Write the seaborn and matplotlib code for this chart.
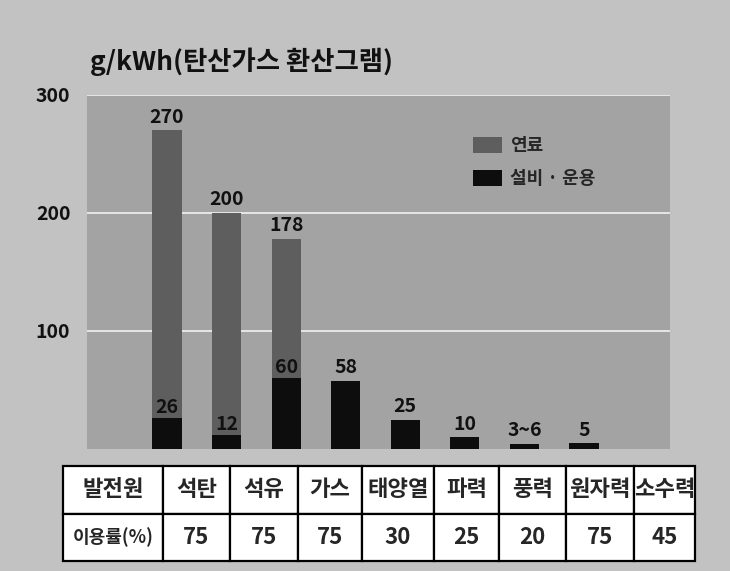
import matplotlib

matplotlib.use("Agg")
import matplotlib.pyplot as plt
import seaborn as sns
import pandas as pd
from matplotlib.patches import Patch

# ===== 데이터 =====
sources = ["석탄", "석유", "가스", "태양열", "파력", "풍력", "원자력", "소수력"]
total = [270, 200, 178, 58, 25, 10, 4.5, 5]          # 연료 + 설비·운용
equipment = [26, 12, 60, 58, 25, 10, 4.5, 5]         # 설비·운용
top_labels = ["270", "200", "178", "58", "25", "10", "3~6", "5"]
inner_labels = ["26", "12", "60", "", "", "", "", ""]
usage = ["75", "75", "75", "30", "25", "20", "75", "45"]
yticks = [100, 200, 300]

sns.set_theme(style="white")
plt.rcParams['font.family'] = ['Noto Sans CJK KR', 'DejaVu Sans']

df = pd.DataFrame({"source": sources, "total": total, "equipment": equipment})

fig = plt.figure(figsize=(7.3, 5.71), dpi=100)
fig.patch.set_facecolor("#c2c2c2")

ax = fig.add_axes([87 / 730, 1 - 449 / 571, 583 / 730, 354 / 571])
ax.set_facecolor("#a3a3a3")

# 연료(전체 높이) 위에 설비·운용을 겹쳐 그림
sns.barplot(data=df, x="source", y="total", color="#5e5e5e", width=0.49,
            saturation=1, linewidth=0, ax=ax)
sns.barplot(data=df, x="source", y="equipment", color="#0d0d0d", width=0.49,
            saturation=1, linewidth=0, ax=ax)

ax.set_xlim(-1.342, 8.443)
ax.set_ylim(0, 300)
ax.set_yticks(yticks)
ax.set_yticklabels([str(t) for t in yticks], fontsize=14, fontweight="bold",
                   color="#111111")
ax.set_xticks([])
ax.set_xlabel("")
ax.set_ylabel("")
ax.tick_params(axis="y", length=0, pad=12)
for s in ax.spines.values():
    s.set_visible(False)
ax.set_axisbelow(True)
ax.yaxis.grid(True, color="#f2f2f2", linewidth=1.2)

# 값 라벨
for i, (t, lab) in enumerate(zip(total, top_labels)):
    ax.text(i, t + 3, lab, ha="center", va="bottom", fontsize=14,
            fontweight="bold", color="#111111")
for i, (e, lab) in enumerate(zip(equipment, inner_labels)):
    if lab:
        ax.text(i, e + 1, lab, ha="center", va="bottom", fontsize=14,
                fontweight="bold", color="#111111")

handles = [Patch(facecolor="#5e5e5e", edgecolor="none", label="연료"),
           Patch(facecolor="#0d0d0d", edgecolor="none", label="설비 · 운용")]
ax.legend(handles=handles, loc="upper left", bbox_to_anchor=(0.635, 0.93),
          frameon=False, handlelength=1.6, handleheight=1.0,
          handletextpad=0.4, labelspacing=0.8,
          prop={"size": 13, "weight": "bold"})

fig.text(90 / 730, 1 - 62 / 571, "g/kWh(탄산가스 환산그램)", fontsize=19,
         fontweight="bold", va="center", ha="left", color="#111111")

# 이용률 표
tab_ax = fig.add_axes([63 / 730, 1 - 561 / 571, 632 / 730, 95 / 571])
tab_ax.axis("off")
cells = [["발전원"] + sources, ["이용률(%)"] + usage]
col_w = [100, 67, 68, 64, 72, 65, 67, 68, 61]
tbl = tab_ax.table(cellText=cells, bbox=[0, 0, 1, 1],
                   colWidths=[w / sum(col_w) for w in col_w], cellLoc="center")
tbl.auto_set_font_size(False)
for (r, c), cell in tbl.get_celld().items():
    cell.set_facecolor("white")
    cell.set_edgecolor("black")
    cell.set_linewidth(1.6)
    cell.get_text().set_fontsize(16)
    cell.get_text().set_fontweight("bold")
tbl[1, 0].get_text().set_fontsize(13)

fig.savefig("out.png", dpi=100, facecolor=fig.get_facecolor())
